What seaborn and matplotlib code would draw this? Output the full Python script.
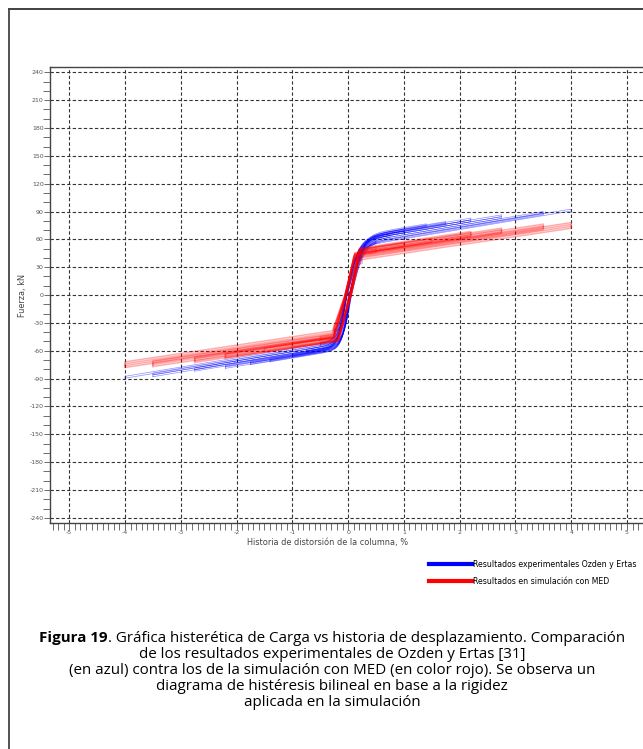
import numpy as np
import pandas as pd
import matplotlib
matplotlib.use("Agg")
import matplotlib.pyplot as plt
import seaborn as sns
from matplotlib.lines import Line2D
from matplotlib.ticker import MultipleLocator

# ---------------- data ----------------
# Experimental cycles (Ozden y Ertas): amplitude [%], peak +force, peak -force [kN]
exp_disp = [0.25, 0.25, 0.5, 0.5, 0.75, 0.75, 1.0, 1.0, 1.4, 1.4, 1.75, 1.75,
            2.2, 2.2, 2.75, 2.75, 3.5, 3.5, 4.0]
exp_fpos = [42, 41, 58, 57, 66, 64, 71, 69, 76.7, 75, 79.2, 77.5,
            82.9, 81, 86.4, 84.5, 90, 88.5, 92.6]
exp_fneg = [-38, -37, -52, -51, -60, -58.5, -65, -63.5, -70, -68.5, -73, -71.5,
            -77, -75.5, -80, -78.5, -86, -84, -87.6]

# Simulation cycles (MED)
sim_disp = [0.25, 0.5, 1.0, 1.5, 2.2, 2.2, 2.75, 2.75, 3.5, 3.5, 4.0, 4.0]
sim_fpos = [38, 50, 56, 61, 68.5, 67, 72, 70.5, 76.4, 74.5, 78, 76]
sim_fneg = [-33, -45, -52, -57, -64, -63, -68.6, -67, -73, -71, -74, -72]

x_ticks = [-5, -4, -3, -2, -1, 0, 1, 2, 3, 4, 5]
y_ticks = list(range(-240, 241, 30))

legend_labels = ["Resultados experimentales Ozden y Ertas",
                 "Resultados en simulación con MED"]
x_label = "Historia de distorsión de la columna, %"
y_label = "Fuerza, kN"
caption_bold = "Figura 19"
caption_rest = [". Gráfica histerética de Carga vs historia de desplazamiento. Comparación",
                "de los resultados experimentales de Ozden y Ertas [31]",
                "(en azul) contra los de la simulación con MED (en color rojo). Se observa un",
                "diagrama de histéresis bilineal en base a la rigidez",
                "aplicada en la simulación"]


# ---------------- loop shapes ----------------
def smooth_branch(x, a_pos, a_neg, s, x0p, x0n, b):
    u = x - s
    return np.where(u >= 0, a_pos * np.tanh(u / x0p), a_neg * np.tanh(u / x0n)) + b * x


def bilin_branch(x, a_pos, a_neg, s, xyp, xyn, b):
    u = x - s
    return np.where(u >= 0, a_pos * np.clip(u / xyp, 0, 1), a_neg * np.clip(u / xyn, -1, 0)) + b * x


def build(disp, fpos, fneg, kind, series):
    rows = []
    if kind == "smooth":
        b, s0, s1, xp, xn, drop, f = 10.0, 0.015, 0.012, 0.22, 0.14, 2.0, smooth_branch
        sat = lambda u, x0: np.tanh(u / x0)
    else:
        b, s0, s1, xp, xn, drop, f = 9.0, 0.02, 0.01, 0.16, 0.22, 4.0, bilin_branch
        sat = lambda u, x0: np.clip(u / x0, -1, 1)
    for k, (d, p, n) in enumerate(zip(disp, fpos, fneg)):
        s = s0 + s1 * d
        a_p = (p - b * d) / sat(d - s, xp)
        a_n = (n + b * d) / sat(-d + s, xn)
        xi = np.linspace(-d, d, 300)
        yi = f(xi, a_p, a_n + drop, s, xp, xn, b)
        xd = np.linspace(d, -d, 300)
        yd = f(xd, a_p - drop, a_n, -s, xp, xn, b)
        xs = np.concatenate([xi, xd, xi[:1]])
        ys = np.concatenate([yi, yd, yi[:1]])
        order = np.arange(len(xs))
        rows.append(pd.DataFrame({"x": xs, "F": ys, "cycle": k, "o": order, "serie": series}))
    return pd.concat(rows, ignore_index=True)


df_exp = build(exp_disp, exp_fpos, exp_fneg, "smooth", "exp")
df_sim = build(sim_disp, sim_fpos, sim_fneg, "bilin", "sim")

# ---------------- figure ----------------
W, H, DPI = 643, 749, 100
fig = plt.figure(figsize=(W / DPI, H / DPI), dpi=DPI)
fig.patch.set_facecolor("white")

ax_l, ax_r = 50, 649.3
ax_t, ax_b = 67.3, 522.7
ax = fig.add_axes([ax_l / W, 1 - ax_b / H, (ax_r - ax_l) / W, (ax_b - ax_t) / H])
ax.set_facecolor("white")

sns.lineplot(data=df_exp, x="x", y="F", units="cycle", estimator=None, sort=False,
             color=(0, 0, 1), lw=0.5, alpha=0.45, ax=ax, legend=False)
sns.lineplot(data=df_sim, x="x", y="F", units="cycle", estimator=None, sort=False,
             color=(1, 0, 0), lw=1.1, alpha=0.33, ax=ax, legend=False)

ax.set_xlim(-5.345, 5.40)
ax.set_ylim(-245.3, 245.4)
ax.set_xticks(x_ticks)
ax.set_yticks(y_ticks)
ax.set_xticklabels([str(v) for v in x_ticks])
ax.set_yticklabels([str(v) for v in y_ticks])
ax.xaxis.set_minor_locator(MultipleLocator(0.1))
ax.yaxis.set_minor_locator(MultipleLocator(10))
ax.tick_params(which="both", direction="out", color="#555555", width=0.6,
               labelsize=4.5, labelcolor="#555555")
ax.tick_params(axis="x", which="both", length=5, pad=0.5)
ax.tick_params(axis="y", which="major", length=4, pad=0.5)
ax.tick_params(axis="y", which="minor", length=5)
ax.grid(True, which="major", color="#333333", linestyle=(0, (3, 2)), lw=0.8)
ax.set_axisbelow(True)
for sp in ax.spines.values():
    sp.set_color("#444444")
    sp.set_linewidth(1.0)

ax.set_xlabel("")
ax.set_ylabel("")
fig.text(328 / W, 1 - 543 / H, x_label, ha="center", va="center", fontsize=5.85,
         color="#444444", family="DejaVu Sans")
fig.text(22 / W, 1 - 295 / H, y_label, ha="center", va="center", rotation=90,
         fontsize=5.85, color="#444444", family="DejaVu Sans")

# legend
handles = [Line2D([], [], color=(0, 0, 1), lw=3), Line2D([], [], color=(1, 0, 0), lw=3)]
fig.legend(handles, legend_labels, loc="upper left",
           bbox_to_anchor=(429 / W, 1 - 560 / H), frameon=False, fontsize=5.6,
           handlelength=5.5, handletextpad=0.1, labelspacing=1.0, borderpad=0,
           borderaxespad=0)

# figure border (top and left)
fig.add_artist(Line2D([9 / W, 1], [1 - 9 / H, 1 - 9 / H], transform=fig.transFigure,
                      color="#333333", lw=1.3))
fig.add_artist(Line2D([9 / W, 9 / W], [1 - 9 / H, 0], transform=fig.transFigure,
                      color="#444444", lw=1.3))

# caption
cap_fs = 10.9
cap_font = "Open Sans"
cx = 332
line_y = [638, 654, 670, 686, 702]
renderer = fig.canvas.get_renderer()
tb = fig.text(0, 0, caption_bold, fontsize=cap_fs, family=cap_font, weight="bold")
tr = fig.text(0, 0, caption_rest[0], fontsize=cap_fs, family=cap_font)
wb = tb.get_window_extent(renderer).width
wr = tr.get_window_extent(renderer).width
x0 = cx - (wb + wr) / 2
tb.set_position((x0 / W, 1 - line_y[0] / H))
tb.set_va("center")
tr.set_position(((x0 + wb) / W, 1 - line_y[0] / H))
tr.set_va("center")
for txt, yy in zip(caption_rest[1:], line_y[1:]):
    fig.text(cx / W, 1 - yy / H, txt, ha="center", va="center", fontsize=cap_fs,
             family=cap_font)

fig.savefig("out.png", dpi=DPI)
